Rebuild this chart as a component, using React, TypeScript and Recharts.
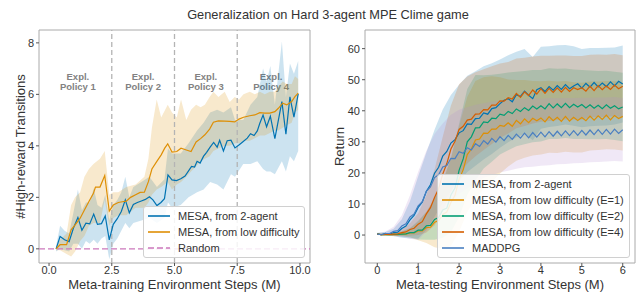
import { ComposedChart, Line, Area, XAxis, YAxis, ReferenceLine, ReferenceArea } from "recharts";

const FONT = '"Liberation Sans", Arial, Helvetica, sans-serif';
const BLUE = "#0173B2";
const ORANGE = "#DE8F05";
const GREEN = "#029E73";
const VERMILION = "#D55E00";
const PINK = "#CC78BC";
const STEEL = "#4a7fc1";
const TEXT = "#333";

// ---- left panel: meta-training ----
const trainTicks = [0, 2.5, 5, 7.5, 10];
const phaseBounds = [2.5, 5, 7.5];
const explCenters = [1.15, 3.75, 6.25, 8.85];
const RANDOM_LEVEL = 0;

// [steps (M), transitions]
const mesa2Agent = [
  [0.28, 0], [0.44, 0.48], [0.62, 0.35], [0.8, 0.28], [0.97, 0.8], [1.15, 1.22], [1.31, 0.72], [1.47, 1.0],
  [1.62, 0.97], [1.78, 1.35], [1.93, 0.95], [2.09, 0.98], [2.24, 1.28], [2.4, 0.35], [2.56, 0.95], [2.72, 1.17],
  [2.88, 1.45], [3.04, 1.9], [3.2, 1.4], [3.36, 1.72], [3.52, 1.8], [3.68, 1.86], [3.84, 1.92], [4.0, 2.02],
  [4.14, 1.9], [4.3, 1.68], [4.46, 1.8], [4.6, 1.95], [4.74, 2.87], [4.9, 2.68], [5.08, 2.65], [5.25, 2.72],
  [5.42, 2.83], [5.56, 3.03], [5.68, 3.2], [5.8, 3.18], [5.9, 3.4], [6.02, 3.33], [6.16, 3.6], [6.28, 3.75],
  [6.42, 3.95], [6.56, 4.13], [6.7, 3.95], [6.8, 4.22], [6.95, 3.8], [7.1, 4.2], [7.25, 4.22], [7.41, 3.92],
  [7.58, 4.04], [7.74, 4.17], [7.9, 4.3], [8.03, 4.47], [8.17, 4.4], [8.3, 4.58], [8.4, 4.88], [8.53, 5.2],
  [8.67, 4.74], [8.82, 5.15], [9.0, 4.28], [9.28, 5.72], [9.44, 4.45], [9.6, 5.9], [9.76, 5.12], [9.93, 6.02],
];
// [steps, low, high]
const mesa2AgentBand = [
  [0.28, -0.1, 0.1], [0.44, 0, 0.9], [0.62, -0.05, 0.7], [0.8, -0.1, 0.6], [0.97, 0.2, 1.4], [1.15, 0.2, 2.3],
  [1.31, 0.0, 1.5], [1.47, 0.3, 1.8], [1.62, 0.2, 1.8], [1.78, 0.35, 2.35], [1.93, 0.2, 1.7], [2.09, 0.4, 1.6],
  [2.24, 0.5, 2.1], [2.4, -0.4, 1.1], [2.56, 0.2, 1.7], [2.72, 0.4, 1.9], [2.88, 0.7, 2.2], [3.04, 1.0, 2.8],
  [3.2, 0.8, 2.0], [3.36, 1.0, 2.4], [3.68, 1.1, 2.6], [4.0, 1.2, 2.8], [4.3, 1.0, 2.4], [4.6, 1.2, 2.7],
  [4.74, 1.8, 3.9], [4.9, 1.6, 3.7], [5.25, 1.7, 3.7], [5.56, 2.0, 4.1], [5.9, 2.2, 4.6], [6.16, 2.3, 4.9],
  [6.42, 2.6, 5.3], [6.7, 2.5, 5.4], [6.95, 2.3, 5.3], [7.25, 2.9, 5.5], [7.41, 2.8, 5.0], [7.74, 3.3, 5.0],
  [8.03, 3.3, 5.6], [8.3, 3.4, 5.9], [8.53, 3.1, 7.0], [8.67, 3.0, 6.5], [8.82, 3.0, 7.1], [9.0, 2.9, 5.6],
  [9.28, 3.4, 8.05], [9.44, 3.0, 5.9], [9.6, 3.6, 7.2], [9.76, 3.4, 6.8], [9.93, 3.8, 7.3],
];
const mesaLowDiff = [
  [0.28, 0], [0.44, 0.16], [0.7, 0.16], [0.88, 0.74], [1.04, 0.93], [1.24, 1.19], [1.41, 1.51], [1.59, 1.84],
  [1.77, 2.16], [1.85, 2.4], [2.03, 2.4], [2.22, 2.85], [2.4, 1.47], [2.56, 1.7], [2.76, 1.8], [2.92, 1.83],
  [3.08, 1.85], [3.25, 2.0], [3.45, 2.1], [3.63, 2.19], [3.8, 2.2], [3.96, 2.61], [4.1, 3.1], [4.29, 3.39],
  [4.47, 3.65], [4.61, 3.91], [4.73, 4.08], [4.9, 3.76], [5.09, 3.78], [5.26, 3.91], [5.47, 3.84], [5.66, 3.78],
  [5.86, 4.15], [6.04, 4.28], [6.21, 4.43], [6.4, 4.65], [6.55, 4.92], [6.75, 4.97], [7.0, 4.96], [7.2, 4.95],
  [7.4, 4.93], [7.57, 5.04], [7.75, 5.11], [8.0, 5.17], [8.2, 5.2], [8.4, 5.29], [8.6, 5.27], [8.8, 5.27],
  [9.0, 5.33], [9.14, 5.46], [9.31, 5.66], [9.47, 5.59], [9.67, 5.72], [9.8, 5.91], [9.93, 6.05],
];
const mesaLowDiffBand = [
  [0.28, -0.05, 0.05], [0.44, -0.05, 0.35], [0.7, -0.2, 0.6], [0.88, -0.3, 1.7], [1.04, -0.1, 2.0],
  [1.24, 0.3, 2.2], [1.41, 0.5, 2.8], [1.59, 0.9, 3.1], [1.77, 1.0, 3.3], [2.03, 1.0, 3.5], [2.22, 1.9, 3.8],
  [2.4, 0.9, 2.1], [2.56, 1.2, 2.2], [2.76, 1.3, 2.2], [3.08, 1.3, 2.4], [3.45, 1.6, 2.5], [3.8, 1.6, 2.8],
  [3.96, 1.8, 3.5], [4.1, 2.1, 4.7], [4.29, 2.3, 5.8], [4.47, 2.4, 5.1], [4.73, 2.6, 5.6], [4.9, 2.3, 5.3],
  [5.09, 2.5, 5.1], [5.26, 2.6, 5.8], [5.47, 2.8, 5.0], [5.66, 3.0, 5.4], [5.86, 3.2, 5.6], [6.04, 3.4, 5.5],
  [6.21, 3.5, 5.6], [6.4, 3.6, 5.9], [6.55, 3.8, 6.1], [6.75, 3.9, 5.9], [7.0, 4.0, 6.1], [7.2, 4.0, 5.7],
  [7.4, 4.1, 5.9], [7.57, 4.1, 5.8], [7.75, 4.2, 6.0], [8.0, 4.2, 6.1], [8.2, 4.3, 6.0], [8.4, 4.4, 6.1],
  [8.6, 4.4, 6.0], [8.8, 4.5, 6.1], [9.0, 4.6, 6.1], [9.14, 4.6, 6.3], [9.31, 4.7, 6.5], [9.47, 4.8, 6.4],
  [9.67, 4.9, 6.4], [9.8, 5.3, 6.7], [9.93, 5.4, 6.6],
];

// ---- right panel: meta-testing ----
const testTicks = [0, 1, 2, 3, 4, 5, 6];
const returnTicks = [0, 10, 20, 30, 40, 50, 60];
// evaluation every 0.1M steps
const testSteps = Array.from({ length: 61 }, (_, i) => i / 10);

const ret2Agent = [
  0.4, 0.1, 0.5, 0.2, 0.8, 0.9, 2.1, 2.9, 4.9, 6.3,
  8.9, 10.6, 14.1, 16.2, 19.9, 21.8, 25.4, 26.9, 29.6, 30.7,
  32.9, 33.6, 35.8, 35.6, 37.5, 37.6, 39.3, 38.9, 40.7, 41.0,
  42.3, 43.4, 43.9, 42.9, 45.2, 44.6, 46.3, 45.0, 43.9, 46.8,
  47.4, 46.2, 47.8, 46.6, 48.1, 46.9, 48.4, 47.1, 48.0, 48.7,
  47.3, 48.8, 47.6, 49.1, 47.7, 48.9, 47.8, 49.3, 48.0, 49.5, 48.6,
];
const retE1 = [
  0.3, 0.1, 0.2, 0.1, 0.2, 0.1, 0.4, 0.3, 0.7, 0.7,
  1.3, 1.3, 2.4, 2.5, 4.1, 4.6, 6.6, 7.4, 10.5, 12.8,
  18.0, 21.0, 25.9, 27.7, 30.6, 30.9, 32.8, 32.7, 34.1, 34.1,
  35.3, 35.0, 36.1, 35.0, 36.9, 35.8, 37.4, 36.2, 37.6, 36.8,
  37.7, 36.4, 38.1, 36.8, 37.9, 36.6, 38.2, 36.7, 37.9, 36.9,
  37.8, 36.8, 38.3, 37.0, 38.4, 37.2, 38.6, 37.1, 38.5, 37.5, 38.2,
];
const retE2 = [
  0.3, 0.1, 0.2, 0.1, 0.2, 0.2, 0.3, 0.4, 0.8, 0.8,
  1.6, 1.6, 3.0, 3.1, 5.0, 5.6, 8.1, 8.7, 12.9, 15.1,
  20.8, 24.5, 30.0, 31.6, 34.5, 34.6, 36.4, 36.2, 37.6, 37.5,
  38.9, 38.5, 39.8, 39.1, 40.6, 39.8, 41.0, 40.1, 41.5, 40.6,
  41.6, 40.6, 42.3, 40.9, 42.2, 41.0, 42.4, 41.0, 42.1, 41.2,
  42.0, 40.9, 41.9, 40.8, 41.8, 40.7, 41.9, 40.8, 41.6, 40.6, 41.2,
];
const retE4 = [
  0.3, 0.1, 0.2, 0.2, 0.3, 0.4, 0.8, 1.0, 1.8, 2.2,
  3.5, 4.3, 6.8, 8.8, 12.1, 14.9, 19.6, 23.0, 27.7, 30.2,
  34.0, 35.0, 37.0, 37.3, 38.9, 39.0, 40.4, 40.3, 41.8, 41.8,
  43.2, 43.1, 44.2, 43.8, 45.6, 44.3, 46.1, 44.9, 46.7, 45.4,
  47.1, 45.6, 47.2, 45.9, 47.4, 46.0, 47.5, 46.2, 47.4, 46.8,
  47.4, 46.3, 47.9, 46.5, 48.1, 46.8, 48.0, 46.9, 48.3, 47.1, 47.9,
];
const retMaddpg = [
  0.3, 0.1, 0.5, 0.5, 1.2, 1.4, 2.9, 3.6, 5.8, 6.8,
  9.4, 10.7, 14.1, 15.5, 18.5, 19.4, 21.9, 22.4, 24.7, 24.6,
  26.8, 26.3, 28.1, 27.4, 29.4, 28.5, 30.4, 29.3, 31.1, 29.9,
  31.7, 30.4, 32.1, 30.8, 32.5, 31.2, 32.8, 31.3, 33.0, 31.5,
  33.1, 31.6, 33.3, 31.8, 33.4, 31.9, 33.5, 32.0, 33.6, 32.1,
  33.7, 32.2, 33.8, 32.3, 33.9, 32.4, 34.0, 32.5, 34.1, 32.7, 33.9,
];
// std-dev every 0.2M
const sd2Agent = [0.3, 0.5, 1.2, 3, 6, 10, 12.5, 14, 15, 15.5, 15.5, 15.5, 15.2, 15, 14.6, 14.2, 14, 13.8, 13.6, 13.4, 13.2, 13, 13, 12.8, 12.8, 12.6, 12.6, 12.5, 12.5, 12.4, 12.4];
const sdE1 = [0.3, 0.3, 0.4, 0.8, 1.5, 3, 5, 8, 11, 14, 17, 18.5, 19, 18, 17, 15.5, 14, 13, 12.5, 12, 11.8, 11.6, 11.5, 11.4, 11.3, 11.2, 11.1, 11, 11, 11, 11];
const sdE2 = [0.3, 0.3, 0.4, 0.8, 1.5, 3, 4.5, 6.5, 9, 12, 15, 17, 17, 15, 14, 13, 12.5, 12, 11.8, 11.6, 11.5, 11.4, 11.3, 11.2, 11.2, 11.1, 11.1, 11, 11, 11, 11];
const sdE4 = [0.3, 0.3, 0.5, 1, 2, 3.5, 6, 9, 12, 14, 14.5, 14, 13.5, 13, 12.5, 12, 11.5, 11.2, 11, 10.8, 10.6, 10.5, 10.4, 10.3, 10.2, 10.2, 10.1, 10, 10, 10, 10];
const sdMaddpg = [0.3, 0.6, 1.5, 3.5, 7, 11, 13, 14, 14, 14, 13.5, 13, 12.5, 12, 11.8, 11.6, 11.4, 11.2, 11, 11, 10.8, 10.8, 10.6, 10.6, 10.5, 10.5, 10.4, 10.4, 10.3, 10.3, 10.2];

const TRAIN_X = [-0.4, 10.4];
const TRAIN_Y = [-0.55, 8.5];
const TEST_X = [-0.3, 6.3];
const TEST_Y = [-9, 66];

const toRows = (pts: number[][]) => pts.map(([x, y]) => ({ x, y }));
const toBand = (pts: number[][]) => pts.map(([x, lo, hi]) => ({ x, band: [lo, hi] }));
const seriesRows = (ys: number[]) => testSteps.map((x, i) => ({ x, y: ys[i] }));
const sdBand = (ys: number[], sd: number[]) =>
  sd.map((s, j) => ({ x: testSteps[2 * j], band: [ys[2 * j] - s, ys[2 * j] + s] }));

const testSeries = [
  { name: "MESA, from 2-agent", ys: ret2Agent, sd: sd2Agent, color: BLUE, fill: BLUE },
  { name: "MESA, from low difficulty (E=1)", ys: retE1, sd: sdE1, color: ORANGE, fill: ORANGE },
  { name: "MESA, from low difficulty (E=2)", ys: retE2, sd: sdE2, color: GREEN, fill: GREEN },
  { name: "MESA, from low difficulty (E=4)", ys: retE4, sd: sdE4, color: VERMILION, fill: VERMILION },
  { name: "MADDPG", ys: retMaddpg, sd: sdMaddpg, color: STEEL, fill: "#b58ad0" },
];

const tickStyle = { fontSize: 11, fill: TEXT };

const ExplLabel = (props: any) => {
  const { viewBox, name } = props;
  if (!viewBox) return null;
  const cx = viewBox.x + viewBox.width / 2;
  return (
    <text x={cx} y={viewBox.y} textAnchor="middle" fontSize={9.5} fontWeight="bold" fill="#828282">
      <tspan x={cx} dy={11.8}>Expl.</tspan>
      <tspan x={cx} dy={10}>{name}</tspan>
    </text>
  );
};

function TrainChart() {
  return (
    <div style={{ position: "absolute", left: 0, top: 0 }}>
      <ComposedChart width={320} height={294} margin={{ top: 30, right: 10, bottom: 0, left: 0 }}>
        <XAxis type="number" dataKey="x" domain={TRAIN_X} ticks={trainTicks} interval={0}
          tickFormatter={(v: number) => v.toFixed(1)} height={31} tickSize={3} tickMargin={0}
          axisLine={false} tickLine={{ stroke: "#555" }} tick={tickStyle} allowDataOverflow />
        <YAxis type="number" domain={TRAIN_Y} ticks={[0, 2, 4, 6, 8]} interval={0} width={39}
          tickSize={3} tickMargin={2} axisLine={false} tickLine={{ stroke: "#555" }} tick={tickStyle} allowDataOverflow />
        {phaseBounds.map((x) => (
          <ReferenceLine key={x} x={x} stroke="#b4b4b4" strokeDasharray="5 3" strokeWidth={1.3} />
        ))}
        {explCenters.map((c, i) => (
          <ReferenceArea key={"e" + i} x1={c - 0.5} x2={c + 0.5} y1={6} y2={7} fill="none" fillOpacity={0}
            stroke="none" label={<ExplLabel name={`Policy ${i + 1}`} />} />
        ))}
        <Area data={toBand(mesa2AgentBand)} dataKey="band" type="linear" stroke="none" fill={BLUE}
          fillOpacity={0.2} isAnimationActive={false} />
        <Area data={toBand(mesaLowDiffBand)} dataKey="band" type="linear" stroke="none" fill={ORANGE}
          fillOpacity={0.2} isAnimationActive={false} />
        <ReferenceLine y={RANDOM_LEVEL} stroke={PINK} strokeDasharray="6 3" strokeWidth={1.3} />
        <Line data={toRows(mesa2Agent)} dataKey="y" type="linear" stroke={BLUE} strokeWidth={1.2}
          dot={false} activeDot={false} isAnimationActive={false} />
        <Line data={toRows(mesaLowDiff)} dataKey="y" type="linear" stroke={ORANGE} strokeWidth={1.2}
          dot={false} activeDot={false} isAnimationActive={false} />
        <ReferenceArea x1={TRAIN_X[0]} x2={TRAIN_X[1]} y1={TRAIN_Y[0]} y2={TRAIN_Y[1]} fill="none"
          fillOpacity={0} stroke="#aaaaaa" strokeWidth={1} />
      </ComposedChart>
    </div>
  );
}

function TestChart() {
  return (
    <div style={{ position: "absolute", left: 320, top: 0 }}>
      <ComposedChart width={321} height={294} margin={{ top: 30, right: 6, bottom: 0, left: 0 }}>
        <XAxis type="number" dataKey="x" domain={TEST_X} ticks={testTicks} interval={0} height={31}
          tickSize={3} tickMargin={0} axisLine={false} tickLine={{ stroke: "#555" }} tick={tickStyle} allowDataOverflow />
        <YAxis type="number" domain={TEST_Y} ticks={returnTicks} interval={0} width={45} tickSize={3}
          tickMargin={2} axisLine={false} tickLine={{ stroke: "#555" }} tick={tickStyle} allowDataOverflow />
        {testSeries.map((s) => (
          <Area key={"b" + s.name} data={sdBand(s.ys, s.sd)} dataKey="band" type="linear" stroke="none"
            fill={s.fill} fillOpacity={0.2} isAnimationActive={false} />
        ))}
        {testSeries.map((s) => (
          <Line key={"l" + s.name} data={seriesRows(s.ys)} dataKey="y" type="linear" stroke={s.color}
            strokeWidth={1.2} dot={false} activeDot={false} isAnimationActive={false} />
        ))}
        <ReferenceArea x1={TEST_X[0]} x2={TEST_X[1]} y1={TEST_Y[0]} y2={TEST_Y[1]} fill="none"
          fillOpacity={0} stroke="#aaaaaa" strokeWidth={1} />
      </ComposedChart>
    </div>
  );
}

type Item = { name: string; color: string; dash?: boolean };

function LegendBox({ left, top, width, items }: { left: number; top: number; width: number; items: Item[] }) {
  return (
    <div style={{
      position: "absolute", left, top, width, boxSizing: "border-box", border: "1px solid #d0d0d0",
      borderRadius: 3, background: "rgba(255,255,255,0.85)", padding: "1px 4px", fontSize: 11, color: TEXT,
    }}>
      {items.map((it) => (
        <div key={it.name} style={{ display: "flex", alignItems: "center", height: 16, whiteSpace: "nowrap" }}>
          <svg width={22} height={4} style={{ marginRight: 8, flex: "none" }}>
            <line x1={0} y1={2} x2={22} y2={2} stroke={it.color} strokeWidth={it.dash ? 1.4 : 2}
              strokeOpacity={it.dash ? 1 : 0.8} strokeDasharray={it.dash ? "6 3" : undefined} />
          </svg>
          <span style={{ lineHeight: "16px" }}>{it.name}</span>
        </div>
      ))}
    </div>
  );
}

export default function App() {
  return (
    <div style={{ position: "absolute", left: 0, top: 0, width: 641, height: 294, background: "#fff", fontFamily: FONT, overflow: "hidden" }}>
      <TrainChart />
      <TestChart />
      <svg width={641} height={294} style={{ position: "absolute", left: 0, top: 0, pointerEvents: "none" }}
        fontFamily={FONT} fill={TEXT}>
        <text x={328} y={19} textAnchor="middle" fontSize={12.8}>Generalization on Hard 3-agent MPE Clime game</text>
        <text x={174.5} y={288.5} textAnchor="middle" fontSize={13}>Meta-training Environment Steps (M)</text>
        <text x={500} y={288.5} textAnchor="middle" fontSize={13}>Meta-testing Environment Steps (M)</text>
        <text x={25} y={146.5} textAnchor="middle" fontSize={13} transform="rotate(-90 25 146.5)">#High-reward Transitions</text>
        <text x={344} y={146.5} textAnchor="middle" fontSize={13} transform="rotate(-90 344 146.5)">Return</text>
      </svg>
      <LegendBox left={143} top={206} width={162} items={[
        { name: "MESA, from 2-agent", color: BLUE },
        { name: "MESA, from low difficulty", color: ORANGE },
        { name: "Random", color: PINK, dash: true },
      ]} />
      <LegendBox left={437} top={174} width={193} items={testSeries.map((s) => ({ name: s.name, color: s.color }))} />
    </div>
  );
}
